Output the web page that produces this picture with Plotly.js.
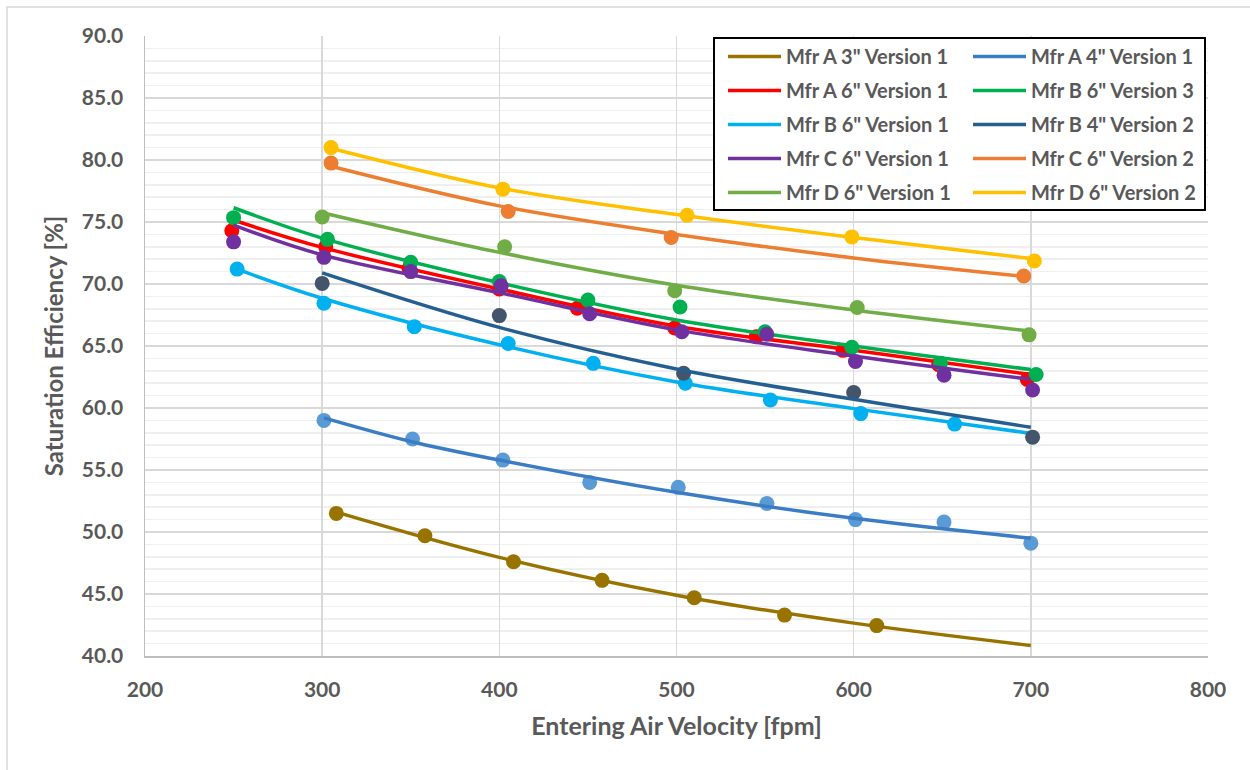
<!DOCTYPE html>
<html>
<head>
<meta charset="utf-8">
<script src="https://cdn.plot.ly/plotly-3.0.1.min.js"></script>
<style>html,body{margin:0;padding:0;background:#fff;}#chart{width:1250px;height:770px;}</style>
</head>
<body>
<div id="chart"></div>
<script>
// Series names (legend order, row by row)
const seriesNames = ['Mfr A 3" Version 1','Mfr A 4" Version 1','Mfr A 6" Version 1','Mfr B 6" Version 3','Mfr B 6" Version 1','Mfr B 4" Version 2','Mfr C 6" Version 1','Mfr C 6" Version 2','Mfr D 6" Version 1','Mfr D 6" Version 2'];

// Measured points (x = entering air velocity fpm, y = saturation efficiency %)
const a3X = [308,358,408,458,510,561,613];
const a3Y = [51.5,49.7,47.6,46.1,44.7,43.3,42.45];
const a4X = [301,351,402,451,501,551,601,651,700];
const a4Y = [59.0,57.5,55.8,54.0,53.6,52.3,51.0,50.8,49.1];
const a6X = [249,302,349,400,444,499,545,594,648,698];
const a6Y = [74.3,73.0,71.25,69.6,68.05,66.45,65.75,64.65,63.5,62.3];
const b6v3X = [250,303,350,400,450,502,550,599,649,703];
const b6v3Y = [75.35,73.6,71.75,70.2,68.7,68.15,66.15,64.9,63.6,62.7];
const b6v1X = [252,301,352,405,453,505,553,604,657];
const b6v1Y = [71.2,68.45,66.56,65.2,63.6,62.0,60.65,59.55,58.7];
const b4v2X = [300,400,504,600,701];
const b4v2Y = [70.05,67.45,62.8,61.25,57.65];
const c6v1X = [250,301,350,401,451,503,551,601,651,701];
const c6v1Y = [73.4,72.15,71.0,69.85,67.6,66.15,65.95,63.75,62.65,61.45];
const c6v2X = [305,405,497,696];
const c6v2Y = [79.75,75.85,73.75,70.65];
const d6v1X = [300,403,499,602,699];
const d6v1Y = [75.4,73.0,69.45,68.1,65.9];
const d6v2X = [305,402,506,599,702];
const d6v2Y = [81.0,77.65,75.55,73.8,71.85];

// Trendline values
const a3TX = [308,400,500,600,700];
const a3TY = [51.6,47.95,44.9,42.65,40.85];
const a4TX = [301,350,400,500,600,700];
const a4TY = [59.2,57.3,55.8,53.2,51.1,49.5];
const a6TX = [249,300,400,500,600,700];
const a6TY = [75.2,72.95,69.6,66.6,64.65,62.7];
const b6v3TX = [250,300,400,500,600,700];
const b6v3TY = [76.15,73.7,70.1,67.1,65.0,63.1];
const b6v1TX = [252,300,400,500,600,700];
const b6v1TY = [71.2,68.85,65.1,62.1,59.95,57.95];
const b4v2TX = [300,400,500,600,700];
const b4v2TY = [70.9,66.5,63.15,60.7,58.45];
const c6v1TX = [250,300,400,500,600,700];
const c6v1TY = [74.75,72.35,69.3,66.3,64.2,62.3];
const c6v2TX = [305,400,500,600,700];
const c6v2TY = [79.5,76.3,74.0,72.1,70.55];
const d6v1TX = [300,400,500,600,700];
const d6v1TY = [75.75,72.55,69.9,67.9,66.2];
const d6v2TX = [305,400,500,600,700];
const d6v2TY = [80.95,77.75,75.6,73.75,72.05];

const lineColors = ['#997300','#3A7DC4','#FF0000','#00B050','#00B0F0','#255E91','#7030A0','#ED7D31','#70AD47','#FFC000'];
const markerColors = ['#997300','#5B9BD5','#FF0000','#00B050','#00B0F0','#44546A','#7030A0','#ED7D31','#70AD47','#FFC000'];

const pts = [[a3X,a3Y],[a4X,a4Y],[a6X,a6Y],[b6v3X,b6v3Y],[b6v1X,b6v1Y],[b4v2X,b4v2Y],[c6v1X,c6v1Y],[c6v2X,c6v2Y],[d6v1X,d6v1Y],[d6v2X,d6v2Y]];
const trends = [[a3TX,a3TY],[a4TX,a4TY],[a6TX,a6TY],[b6v3TX,b6v3TY],[b6v1TX,b6v1TY],[b4v2TX,b4v2TY],[c6v1TX,c6v1TY],[c6v2TX,c6v2TY],[d6v1TX,d6v1TY],[d6v2TX,d6v2TY]];

const FONT = 'Lato, "Open Sans", sans-serif';
const GREY = '#595959';

// plot area in pixels (for paper conversions)
const PL = 145, PR = 1208, PT = 36, PB = 656;
const px2x = p => (p - PL) / (PR - PL);
const px2y = p => (PB - p) / (PB - PT);

const data = [];
for (let i = 0; i < seriesNames.length; i++) {
  data.push({
    x: pts[i][0], y: pts[i][1], type: 'scatter', mode: 'markers',
    marker: {color: markerColors[i], size: 15},
    showlegend: false, hoverinfo: 'x+y', name: seriesNames[i], cliponaxis: false
  });
  data.push({
    x: trends[i][0], y: trends[i][1], type: 'scatter', mode: 'lines',
    line: {color: lineColors[i], width: 3.5, shape: 'spline', smoothing: 1},
    name: seriesNames[i], showlegend: true,
    legend: (i % 2 === 0) ? 'legend' : 'legend2',
    legendgroup: 'g' + i
  });
}

const legendCommon = {
  orientation: 'v', xanchor: 'left', yanchor: 'top',
  bgcolor: 'rgba(0,0,0,0)', borderwidth: 0,
  font: {family: FONT, size: 20, color: GREY, weight: 'bold'},
  itemwidth: 53, tracegroupgap: 5
};

const layout = {
  width: 1250, height: 770,
  margin: {l: PL, r: 1250 - PR, t: PT, b: 770 - PB},
  paper_bgcolor: '#ffffff', plot_bgcolor: '#ffffff',
  font: {family: FONT, color: GREY},
  showlegend: true,
  xaxis: {
    range: [200, 800], dtick: 100, tick0: 200,
    showgrid: true, gridcolor: '#D9D9D9', gridwidth: 1.5,
    showline: true, linecolor: '#BFBFBF', linewidth: 1.5,
    zeroline: false, ticks: '', ticklabelstandoff: 14,
    tickfont: {family: FONT, size: 21, color: GREY, weight: 'bold'},
    title: {text: 'Entering Air Velocity [fpm]', font: {family: FONT, size: 25, color: GREY, weight: 'bold'}, standoff: 18}
  },
  yaxis: {
    range: [40, 90], dtick: 5, tick0: 40, tickformat: '.1f',
    showgrid: true, gridcolor: '#D9D9D9', gridwidth: 1.5,
    minor: {dtick: 1, showgrid: true, gridcolor: '#EFEFEF', gridwidth: 1.5},
    showline: true, linecolor: '#BFBFBF', linewidth: 1.5,
    zeroline: false, ticks: '', ticklabelstandoff: 16,
    tickfont: {family: FONT, size: 21, color: GREY, weight: 'bold'},
    title: {text: 'Saturation Efficiency [%]', font: {family: FONT, size: 24, color: GREY, weight: 'bold'}, standoff: 11}
  },
  legend: Object.assign({}, legendCommon, {x: px2x(723), y: px2y(37)}),
  legend2: Object.assign({}, legendCommon, {x: px2x(968), y: px2y(37)}),
  shapes: [
    {
      type: 'rect', xref: 'paper', yref: 'paper',
      x0: px2x(7), x1: 1.1, y0: -0.3, y1: px2y(7),
      line: {color: '#D9D9D9', width: 1.5}, fillcolor: 'rgba(0,0,0,0)', layer: 'below'
    },
    {
      type: 'rect', xref: 'paper', yref: 'paper',
      x0: px2x(714), x1: px2x(1205), y0: px2y(210), y1: px2y(38),
      line: {color: '#000000', width: 2}, fillcolor: '#ffffff', layer: 'above'
    }
  ]
};

Plotly.newPlot('chart', data, layout, {displayModeBar: false, staticPlot: true});
</script>
</body>
</html>
